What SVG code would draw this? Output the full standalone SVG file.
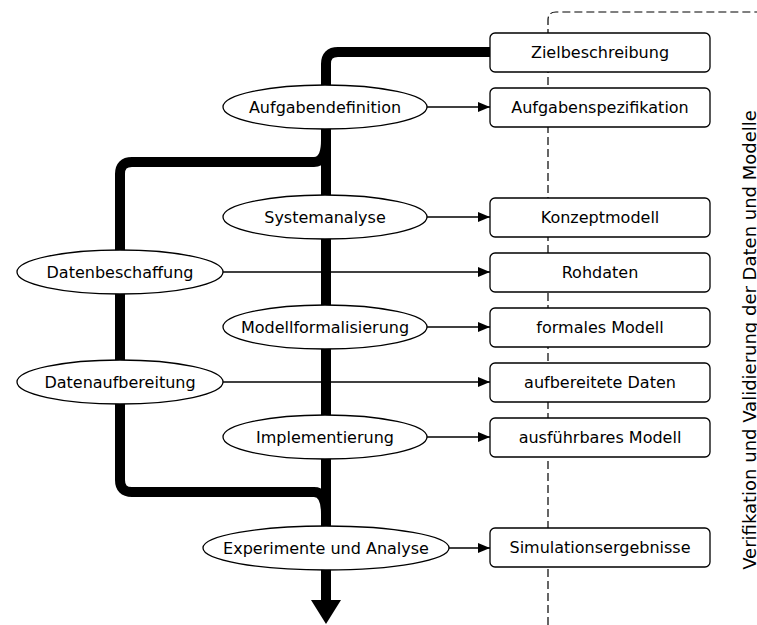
<svg xmlns="http://www.w3.org/2000/svg" width="757" height="625" viewBox="0 0 757 625">
<defs>
<style>
text{font-family:"DejaVu Sans",sans-serif;font-size:16px;fill:#000;text-anchor:middle;dominant-baseline:central}
.box{fill:#fff;stroke:#000;stroke-width:1.3}
.ell{fill:#fff;stroke:#000;stroke-width:1.3}
.thick{fill:none;stroke:#000;stroke-width:10}
.thin{fill:none;stroke:#000;stroke-width:1.3;marker-end:url(#ah)}
.dash{fill:none;stroke:#000;stroke-width:1.2;stroke-dasharray:8,4}
.side{font-size:18px;dominant-baseline:auto}
</style>
<marker id="ah" viewBox="0 0 12 10" refX="12" refY="5" markerWidth="12" markerHeight="10" markerUnits="userSpaceOnUse" orient="auto">
<path d="M0,0 L12,5 L0,10 Z" fill="#000"/>
</marker>
</defs>
<g id="validation">
<path class="dash" d="M548,625 V20 Q548,12 556,12 H757"/>
<text class="side" transform="translate(756,340) rotate(-90)">Verifikation und Validierung der Daten und Modelle</text>
</g>
<g id="connectors">
<path class="thick" d="M490,52 H338 Q326,52 326,64 V602"/>
<path d="M311,600 H341 L326,624 Z" fill="#000"/>
<path class="thick" d="M326,140 Q326,162 314,162 H132 Q120,162 120,174 V480 Q120,492 132,492 H314 Q326,492 326,514"/>
<path class="thin" d="M427,107 H490"/>
<path class="thin" d="M427,217 H490"/>
<path class="thin" d="M223,272 H490"/>
<path class="thin" d="M427,327 H490"/>
<path class="thin" d="M223,382 H490"/>
<path class="thin" d="M427,437 H490"/>
<path class="thin" d="M449,548 H490"/>
</g>
<g id="n-zielbeschreibung"><rect class="box" x="490" y="33" width="220" height="39" rx="5"/><text x="600" y="52.5">Zielbeschreibung</text></g>
<g id="n-aufgabenspezifikation"><rect class="box" x="490" y="88" width="220" height="39" rx="5"/><text x="600" y="107.5">Aufgabenspezifikation</text></g>
<g id="n-konzeptmodell"><rect class="box" x="490" y="198" width="220" height="39" rx="5"/><text x="600" y="217.5">Konzeptmodell</text></g>
<g id="n-rohdaten"><rect class="box" x="490" y="253" width="220" height="39" rx="5"/><text x="600" y="272.5">Rohdaten</text></g>
<g id="n-formales-modell"><rect class="box" x="490" y="308" width="220" height="39" rx="5"/><text x="600" y="327.5">formales Modell</text></g>
<g id="n-aufbereitete-daten"><rect class="box" x="490" y="363" width="220" height="39" rx="5"/><text x="600" y="382.5">aufbereitete Daten</text></g>
<g id="n-ausfuehrbares-modell"><rect class="box" x="490" y="418" width="220" height="39" rx="5"/><text x="600" y="437.5">ausführbares Modell</text></g>
<g id="n-simulationsergebnisse"><rect class="box" x="490" y="528" width="220" height="39" rx="5"/><text x="600" y="547.5">Simulationsergebnisse</text></g>
<g id="n-aufgabendefinition"><ellipse class="ell" cx="325" cy="107" rx="102" ry="22"/><text x="325" y="107">Aufgabendefinition</text></g>
<g id="n-systemanalyse"><ellipse class="ell" cx="325" cy="217" rx="102" ry="22"/><text x="325" y="217">Systemanalyse</text></g>
<g id="n-datenbeschaffung"><ellipse class="ell" cx="120" cy="272" rx="103" ry="22"/><text x="120" y="272">Datenbeschaffung</text></g>
<g id="n-modellformalisierung"><ellipse class="ell" cx="325" cy="327" rx="102" ry="22"/><text x="325" y="327">Modellformalisierung</text></g>
<g id="n-datenaufbereitung"><ellipse class="ell" cx="120" cy="382" rx="103" ry="22"/><text x="120" y="382">Datenaufbereitung</text></g>
<g id="n-implementierung"><ellipse class="ell" cx="325" cy="437" rx="102" ry="22"/><text x="325" y="437">Implementierung</text></g>
<g id="n-experimente"><ellipse class="ell" cx="326" cy="548" rx="123" ry="22"/><text x="326" y="548">Experimente und Analyse</text></g>
</svg>
